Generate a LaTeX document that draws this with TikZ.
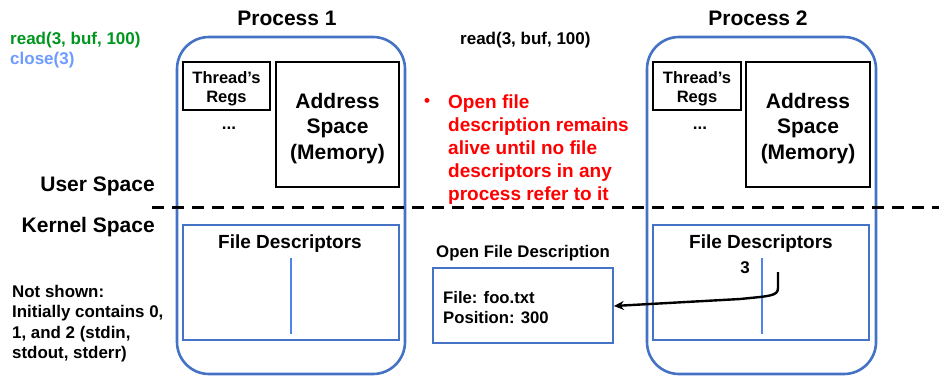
\documentclass[tikz,border=0pt]{standalone}
\usepackage{fontspec}
\setmainfont{Liberation Sans}
\usetikzlibrary{arrows.meta}
\definecolor{pblue}{RGB}{68,114,196}
\definecolor{lblue}{RGB}{80,130,235}
\definecolor{cgreen}{RGB}{0,150,30}
\definecolor{cblue}{RGB}{110,155,255}
\definecolor{cred}{RGB}{255,0,0}
\tikzset{
  proc/.style={draw=pblue, line width=2.6pt, rounded corners=32pt},
  blk/.style={draw=black, line width=1.6pt},
  fdbox/.style={draw=pblue, line width=1.7pt},
  sep/.style={draw=lblue, line width=1.5pt},
  txt/.style={font=\bfseries, inner sep=0pt},
}
\begin{document}
\begin{tikzpicture}[x=1pt,y=-1pt]
\useasboundingbox (0,0) rectangle (939,376);

% Titles
\node[txt, font=\fontsize{21}{21}\selectfont\bfseries] (p1t) at (287,18) {Process 1};
\node[txt, font=\fontsize{21}{21}\selectfont\bfseries] (p2t) at (758,18) {Process 2};

% Process boxes
\draw[proc] (177,37) rectangle (405,374);
\draw[proc] (647,37) rectangle (876,374);

% Thread regs
\node[blk, minimum width=87pt, minimum height=48pt, inner sep=0pt] (tr1) at (226.5,86) {};
\node[blk, minimum width=88pt, minimum height=48pt, inner sep=0pt] (tr2) at (697,86) {};
\node[txt, align=center, font=\fontsize{16.5}{19.5}\selectfont\bfseries] (tr1t) at (226.5,89) {Thread's\\Regs};
\node[txt, align=center, font=\fontsize{16.5}{19.5}\selectfont\bfseries] (tr2t) at (697,89) {Thread's\\Regs};
\node[txt, font=\fontsize{17}{17}\selectfont\bfseries] (d1) at (229,128) {...};
\node[txt, font=\fontsize{17}{17}\selectfont\bfseries] (d2) at (700,128) {...};

% Address spaces
\node[blk, minimum width=123pt, minimum height=125pt, inner sep=0pt] (as1) at (337.5,124.5) {};
\node[blk, minimum width=124pt, minimum height=125pt, inner sep=0pt] (as2) at (808,124.5) {};
\node[txt, align=center, font=\fontsize{21}{25.5}\selectfont\bfseries] (as1t) at (337.5,128.5) {Address\\Space\\(Memory)};
\node[txt, align=center, font=\fontsize{21}{25.5}\selectfont\bfseries] (as2t) at (808,128.5) {Address\\Space\\(Memory)};

% dashed separator
\coordinate (dl) at (152,207);
\coordinate (dr) at (939,207);
\draw[line width=3pt, dash pattern=on 12pt off 8pt] (dl) -- (dr);

% File descriptor boxes
\node[fdbox, minimum width=216pt, minimum height=115pt, inner sep=0pt] (fd1) at (291,282.5) {};
\node[fdbox, minimum width=216pt, minimum height=115pt, inner sep=0pt] (fd2) at (761,282.5) {};
\node[txt, font=\fontsize{19}{19}\selectfont\bfseries] (fd1t) at (290,244) {File Descriptors};
\node[txt, font=\fontsize{19}{19}\selectfont\bfseries] (fd2t) at (761,244) {File Descriptors};
\coordinate (s1a) at (291,258); \coordinate (s1b) at (291,334);
\coordinate (s2a) at (762,258); \coordinate (s2b) at (762,334);
\draw[sep] (s1a) -- (s1b);
\draw[sep] (s2a) -- (s2b);
\node[txt, font=\fontsize{17}{17}\selectfont\bfseries] (three) at (745,268) {3};

% Open file description
\node[txt, font=\fontsize{16.8}{16.8}\selectfont\bfseries] (ofdt) at (523,253) {Open File Description};
\node[fdbox, minimum width=180pt, minimum height=75pt, inner sep=0pt] (ofd) at (523,305.5) {};
\node[txt, anchor=west, align=left, font=\fontsize{16.7}{20}\selectfont\bfseries] (ofdtxt) at (443,307.5) {File: foo.txt\\Position: 300};

% arrow
\coordinate (as) at (778,272);
\draw[line width=2.4pt, -{Stealth[length=10pt,width=9pt]}] (as) -- (778,288) .. controls (778,296) and (770,296) .. (740,299) -- (ofd.east |- 0,306);

% Left texts
\node[txt, anchor=west, text=cgreen, font=\fontsize{17}{17}\selectfont\bfseries] (rd1) at (10,40) {read(3, buf, 100)};
\node[txt, anchor=west, text=cblue, font=\fontsize{17}{17}\selectfont\bfseries] (cl) at (10,60) {close(3)};
\node[txt, anchor=west, font=\fontsize{17}{17}\selectfont\bfseries] (rd2) at (460,40) {read(3, buf, 100)};

\node[txt, anchor=east, font=\fontsize{21}{21}\selectfont\bfseries] (us) at (155,186) {User Space};
\node[txt, anchor=east, font=\fontsize{21}{21}\selectfont\bfseries] (ks) at (155,227) {Kernel Space};

\node[txt, anchor=north west, align=left, font=\fontsize{16.9}{20.3}\selectfont\bfseries] (ns) at (12,285) {Not shown:\\Initially contains 0,\\1, and 2 (stdin,\\stdout, stderr)};

% red bullet text
\node[txt, text=cred, font=\fontsize{17}{17}\selectfont\bfseries] (bul) at (427,102) {\textbullet};
\node[txt, anchor=base west, align=left, text=cred, font=\fontsize{19}{23}\selectfont\bfseries] (red) at (448,200) {Open file\\description remains\\alive until no file\\descriptors in any\\process refer to it};
\end{tikzpicture}
\end{document}
